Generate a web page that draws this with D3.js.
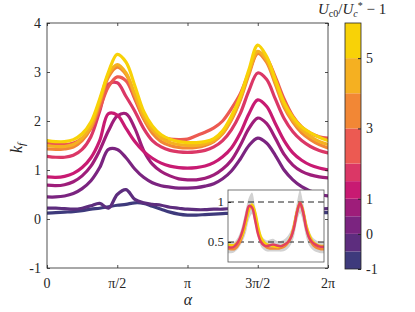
<!DOCTYPE html>
<html lang="en">
<head>
<meta charset="UTF-8">
<script src="https://d3js.org/d3.v7.min.js"></script>
<title>kf_alpha</title>
<style>
body { margin: 0; background: #fff; }
svg text { font-family: "Liberation Serif", "DejaVu Serif", serif; fill: #262626; }
</style>
</head>
<body>
<script>

// sample grid: alpha = i * pi/16, i = 0..32
var alpha = d3.range(33).map(function(i) { return i * Math.PI / 16; });

// colour levels (U_c0/U_c* - 1), band edges of the colorbar
var cbEdges = [-1, -0.5, 0, 0.5, 1, 1.5, 2, 3, 4, 5, 6];
var cbColors = ["#3e3a7c", "#5d2d7e", "#7b2480", "#9e1d7a", "#c81a72",
                "#db3766", "#ec5a52", "#f28735", "#f5b021", "#f8d207"];
var cbTicks = [-1, 0, 1, 3, 5];

// k_f curves, lowest level first
var kf1 = [0.12,0.13,0.14,0.15,0.17,0.2,0.22,0.25,0.28,0.3,0.33,0.32,0.26,0.2,0.14,0.1,0.08,0.08,0.09,0.1,0.11,0.12,0.14,0.2,0.28,0.22,0.16,0.14,0.13,0.13,0.13,0.13,0.13];
var kf2 = [0.22,0.22,0.21,0.2,0.22,0.27,0.32,0.22,0.5,0.6,0.4,0.33,0.3,0.28,0.24,0.22,0.2,0.19,0.19,0.2,0.2,0.22,0.28,0.4,0.5,0.42,0.3,0.24,0.21,0.2,0.2,0.2,0.21];
var kf3 = [0.45,0.45,0.47,0.52,0.62,0.78,1.05,1.42,1.42,1.25,1.02,0.85,0.74,0.68,0.65,0.63,0.63,0.64,0.67,0.72,0.82,0.98,1.22,1.5,1.65,1.55,1.3,1.0,0.8,0.66,0.57,0.5,0.47];
var kf4 = [0.69,0.68,0.7,0.76,0.88,1.08,1.4,1.8,2.1,2.15,1.85,1.4,1.12,0.97,0.88,0.82,0.8,0.8,0.83,0.9,1.02,1.2,1.5,1.85,2.06,1.95,1.65,1.32,1.1,0.97,0.9,0.86,0.84];
var kf5 = [0.86,0.85,0.87,0.93,1.05,1.25,1.6,2.15,2.12,1.85,1.58,1.38,1.24,1.14,1.08,1.05,1.04,1.05,1.08,1.15,1.27,1.45,1.75,2.15,2.43,2.3,1.95,1.6,1.35,1.2,1.1,1.04,1.0];
var kf6 = [1.28,1.26,1.26,1.3,1.42,1.68,2.2,2.75,2.78,2.5,2.2,1.85,1.6,1.47,1.4,1.37,1.36,1.37,1.4,1.47,1.6,1.82,2.15,2.62,2.98,2.85,2.45,2.05,1.78,1.6,1.48,1.4,1.35];
var kf7 = [1.55,1.53,1.52,1.55,1.65,1.85,2.25,2.7,2.9,2.82,2.45,2.05,1.8,1.68,1.63,1.62,1.63,1.7,1.77,1.86,2.0,2.25,2.55,3.0,3.4,3.28,2.9,2.45,2.1,1.88,1.75,1.68,1.65];
var kf8 = [1.43,1.42,1.43,1.47,1.6,1.85,2.35,2.9,3.1,2.95,2.5,2.05,1.75,1.58,1.5,1.46,1.45,1.46,1.5,1.58,1.74,2.02,2.42,2.95,3.38,3.2,2.75,2.28,1.98,1.76,1.62,1.52,1.45];
var kf9 = [1.5,1.48,1.48,1.52,1.65,1.9,2.4,2.95,3.15,2.98,2.55,2.1,1.82,1.65,1.56,1.52,1.5,1.5,1.53,1.6,1.75,2.05,2.45,3.0,3.42,3.25,2.8,2.32,2.02,1.82,1.68,1.58,1.52];
var kf10 = [1.6,1.58,1.58,1.62,1.74,1.98,2.45,3.0,3.36,3.2,2.72,2.2,1.9,1.72,1.63,1.58,1.56,1.56,1.58,1.64,1.8,2.1,2.5,3.05,3.55,3.32,2.85,2.38,2.08,1.88,1.76,1.67,1.6];
var kfCurves = [kf1, kf2, kf3, kf4, kf5, kf6, kf7, kf8, kf9, kf10];

// inset: normalised k_f, spread band and three curves
var bandHi = [0.5,0.5,0.5,0.54,0.62,0.75,0.92,1.06,1.12,0.95,0.75,0.6,0.54,0.52,0.53,0.54,0.52,0.51,0.52,0.54,0.58,0.65,0.8,1.0,1.15,1.0,0.8,0.65,0.57,0.53,0.51,0.5,0.5];
var bandLo = [0.36,0.36,0.37,0.4,0.45,0.52,0.62,0.78,0.85,0.72,0.55,0.44,0.4,0.38,0.38,0.38,0.38,0.38,0.38,0.39,0.42,0.47,0.57,0.75,0.86,0.75,0.57,0.46,0.41,0.38,0.37,0.36,0.36];
var insYellow = [0.47,0.46,0.46,0.49,0.53,0.61,0.75,0.9,0.97,0.88,0.7,0.56,0.5,0.47,0.46,0.45,0.44,0.44,0.45,0.47,0.5,0.57,0.7,0.88,0.99,0.9,0.72,0.6,0.52,0.48,0.46,0.45,0.45];
var insOrange = [0.42,0.41,0.41,0.44,0.5,0.6,0.76,0.92,0.95,0.85,0.66,0.52,0.46,0.43,0.42,0.42,0.42,0.42,0.43,0.45,0.49,0.56,0.7,0.88,0.98,0.88,0.7,0.56,0.48,0.44,0.42,0.41,0.41];
var insRed = [0.44,0.43,0.44,0.48,0.55,0.66,0.82,0.95,0.93,0.78,0.6,0.5,0.46,0.45,0.46,0.47,0.46,0.45,0.45,0.47,0.5,0.56,0.68,0.87,0.99,0.88,0.68,0.56,0.5,0.47,0.45,0.44,0.44];
var insCurves = [insOrange, insYellow, insRed];
var insColors = ["#f28735", "#f8d207", "#e2405f"];

var xTicks = [0, Math.PI/2, Math.PI, 3*Math.PI/2, 2*Math.PI];
var xTickLabels = ["0", "\u03c0/2", "\u03c0", "3\u03c0/2", "2\u03c0"];
var yTicks = [-1, 0, 1, 2, 3, 4];

var width = 415, height = 312;
var svg = d3.select("body").append("svg").attr("width", width).attr("height", height)
    .attr("font-family", "'Liberation Serif', 'DejaVu Serif', serif");

var x = d3.scaleLinear().domain([0, 2*Math.PI]).range([47, 328]);
var y = d3.scaleLinear().domain([-1, 4]).range([268, 23]);

var axisCol = "#262626";

// clip for main plot
svg.append("clipPath").attr("id", "mainclip")
   .append("rect").attr("x", 47).attr("y", 23).attr("width", 281).attr("height", 245);

var line = d3.line()
    .x(function(d, i) { return x(alpha[i]); })
    .y(function(d) { return y(d); })
    .curve(d3.curveCatmullRom);

svg.append("g").attr("clip-path", "url(#mainclip)")
   .selectAll("path").data(kfCurves).enter().append("path")
   .attr("d", line)
   .attr("fill", "none")
   .attr("stroke", function(d, i) { return cbColors[i]; })
   .attr("stroke-width", 3.2)
   .attr("stroke-linejoin", "round")
   .attr("stroke-linecap", "round");

// box + inward ticks
svg.append("rect").attr("x", 47).attr("y", 23).attr("width", 281).attr("height", 245)
   .attr("fill", "none").attr("stroke", axisCol).attr("stroke-width", 0.8);

svg.append("g").attr("transform", "translate(0,268)")
   .call(d3.axisBottom(x).tickValues(xTicks).tickSize(-3).tickFormat(""))
   .call(function(g) { g.select(".domain").remove(); });
svg.append("g").attr("transform", "translate(0,23)")
   .call(d3.axisTop(x).tickValues(xTicks).tickSize(-3).tickFormat(""))
   .call(function(g) { g.select(".domain").remove(); });
svg.append("g").attr("transform", "translate(47,0)")
   .call(d3.axisLeft(y).tickValues(yTicks).tickSize(-3).tickFormat(""))
   .call(function(g) { g.select(".domain").remove(); });
svg.append("g").attr("transform", "translate(328,0)")
   .call(d3.axisRight(y).tickValues(yTicks).tickSize(-3).tickFormat(""))
   .call(function(g) { g.select(".domain").remove(); });
svg.selectAll(".tick line").attr("stroke", axisCol).attr("stroke-width", 0.8);

svg.selectAll(".xlab").data(xTicks).enter().append("text")
   .attr("x", function(d) { return x(d); }).attr("y", 288)
   .attr("text-anchor", "middle").attr("font-size", 14)
   .text(function(d, i) { return xTickLabels[i]; });

svg.selectAll(".ylab").data(yTicks).enter().append("text")
   .attr("x", 41).attr("y", function(d) { return y(d) + 5; })
   .attr("text-anchor", "end").attr("font-size", 14)
   .text(function(d) { return d; });

svg.append("text").attr("x", 188).attr("y", 305).attr("text-anchor", "middle")
   .attr("font-size", 16).attr("font-style", "italic").text("\u03b1");

var kl = svg.append("text").attr("transform", "translate(22,148) rotate(-90)")
   .attr("text-anchor", "middle").attr("font-size", 16).attr("font-style", "italic");
kl.append("tspan").text("k");
kl.append("tspan").attr("font-size", 11).attr("dy", 3).text("f");

// inset
var ix = d3.scaleLinear().domain([0, 2*Math.PI]).range([228, 324]);
var iy = d3.scaleLinear().domain([0.25, 1.15]).range([262, 190]);

svg.append("clipPath").attr("id", "insclip")
   .append("rect").attr("x", 228).attr("y", 190).attr("width", 96).attr("height", 72);

svg.append("rect").attr("x", 228).attr("y", 190).attr("width", 96).attr("height", 72)
   .attr("fill", "#fff");

var ig = svg.append("g").attr("clip-path", "url(#insclip)");

var band = d3.area()
    .x(function(d, i) { return ix(alpha[i]); })
    .y0(function(d, i) { return iy(bandLo[i]); })
    .y1(function(d) { return iy(d); })
    .curve(d3.curveCatmullRom);
ig.append("path").datum(bandHi).attr("d", band).attr("fill", "#d2d2d2");

[1, 0.5].forEach(function(v) {
  ig.append("line").attr("x1", 228).attr("x2", 324)
    .attr("y1", iy(v)).attr("y2", iy(v))
    .attr("stroke", "#222").attr("stroke-width", 1).attr("stroke-dasharray", "6,4");
});

var iline = d3.line()
    .x(function(d, i) { return ix(alpha[i]); })
    .y(function(d) { return iy(d); })
    .curve(d3.curveCatmullRom);
ig.selectAll(".il").data(insCurves).enter().append("path")
   .attr("d", iline).attr("fill", "none")
   .attr("stroke", function(d, i) { return insColors[i]; })
   .attr("stroke-width", 2.5);

svg.append("rect").attr("x", 228).attr("y", 190).attr("width", 96).attr("height", 72)
   .attr("fill", "none").attr("stroke", "#555").attr("stroke-width", 0.8);

svg.append("g").attr("transform", "translate(228,0)")
   .call(d3.axisLeft(iy).tickValues([0.5, 1]).tickSize(-3).tickFormat(""))
   .call(function(g) { g.select(".domain").remove(); g.selectAll("line").attr("stroke", axisCol); });
[["1", 1], ["0.5", 0.5]].forEach(function(t) {
  svg.append("text").attr("x", 224).attr("y", iy(t[1]) + 4).attr("text-anchor", "end")
     .attr("font-size", 13).text(t[0]);
});

// colorbar
var cy = d3.scaleLinear().domain([-1, 6]).range([269, 23]);
svg.selectAll(".cb").data(cbColors).enter().append("rect")
   .attr("x", 345).attr("width", 16)
   .attr("y", function(d, i) { return cy(cbEdges[i+1]); })
   .attr("height", function(d, i) { return cy(cbEdges[i]) - cy(cbEdges[i+1]); })
   .attr("fill", function(d) { return d; });
svg.append("rect").attr("x", 345).attr("y", 23).attr("width", 16).attr("height", 246)
   .attr("fill", "none").attr("stroke", axisCol).attr("stroke-width", 0.8);
svg.append("g").attr("transform", "translate(361,0)")
   .call(d3.axisRight(cy).tickValues(cbTicks).tickSize(-3).tickFormat(""))
   .call(function(g) { g.select(".domain").remove(); g.selectAll("line").attr("stroke", axisCol); });
svg.selectAll(".cbl").data(cbTicks).enter().append("text")
   .attr("x", 366).attr("y", function(d) { return cy(d) + 5; })
   .attr("font-size", 14).text(function(d) { return d; });

var tt = svg.append("text").attr("x", 318).attr("y", 14).attr("font-size", 15);
tt.append("tspan").attr("font-style", "italic").text("U");
tt.append("tspan").attr("font-size", 10).attr("dy", 3).text("c0");
tt.append("tspan").attr("dy", -3).text("/");
tt.append("tspan").attr("font-style", "italic").text("U");
tt.append("tspan").attr("font-size", 10).attr("font-style", "italic").attr("dy", 3).text("c");
tt.append("tspan").attr("font-size", 10).attr("dy", -8).text("*");
tt.append("tspan").attr("dy", 5).text(" \u2212 1");

</script>
</body>
</html>
